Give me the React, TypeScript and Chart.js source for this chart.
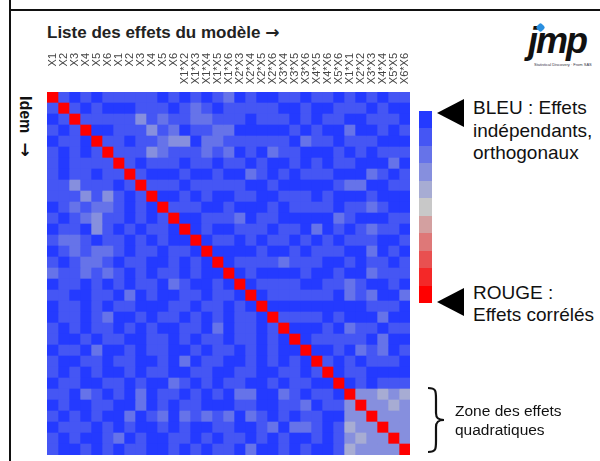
import React, { useEffect, useRef } from "react";
import { Chart, registerables } from "chart.js";
Chart.register(...registerables);

// ---- data ----
const mainLabels = ["X1", "X2", "X3", "X4", "X5", "X6"];
const blockLabels = ["X1", "X2", "X3", "X4", "X5", "X6"];
const interactionLabels = [
  "X1*X2", "X1*X3", "X1*X4", "X1*X5", "X1*X6",
  "X2*X3", "X2*X4", "X2*X5", "X2*X6",
  "X3*X4", "X3*X5", "X3*X6",
  "X4*X5", "X4*X6",
  "X5*X6",
];
const quadraticLabels = ["X1*X1", "X2*X2", "X3*X3", "X4*X4", "X5*X5", "X6*X6"];
const effectLabels = [...mainLabels, ...blockLabels, ...interactionLabels, ...quadraticLabels];

// |r| in tenths, lower triangle (row i, columns 0..i-1)
const lowerTriangle = [
  "",
  "1",
  "01",
  "101",
  "0110",
  "10101",
  "101111",
  "1011011",
  "11311101",
  "111313101",
  "0121221010",
  "10123110101",
  "011031010110",
  "1221011010100",
  "01212210110110",
  "101221011001010",
  "2112121010110100",
  "01101010110210010",
  "110011020100110110",
  "0110101100011011010",
  "01101200101101010110",
  "101011010100110201101",
  "1001011001101011011010",
  "01102001011001011010100",
  "100110110010201100101010",
  "1010100101100110011001101",
  "01100110100210101100101100",
  "110210102011010102200210110",
  "0100110020101100011001120113",
  "10101002012021212021010110033",
  "011101010010100110012022101433",
  "1010012010011010110101001013433",
  "10010101100101011020010100143333",
];

const legendSteps = [0, 0.1, 0.2, 0.3, 0.4, 0.5, 0.6, 0.7, 0.8, 0.9, 1];

// ---- colour scale ----
const BLUE = [36, 58, 255];
const GREY = [200, 200, 200];
const RED = [255, 0, 0];
function colorFor(t: number): string {
  const lo = t <= 0.5 ? BLUE : GREY;
  const hi = t <= 0.5 ? GREY : RED;
  const f = t <= 0.5 ? t / 0.5 : (t - 0.5) / 0.5;
  const c = lo.map((v, k) => Math.round(v + (hi[k] - v) * f));
  return `rgb(${c[0]},${c[1]},${c[2]})`;
}

function corr(i: number, j: number): number {
  if (i === j) return 1;
  const r = Math.max(i, j);
  const c = Math.min(i, j);
  const ch = (lowerTriangle[r] || "")[c];
  return ch ? parseInt(ch, 10) / 10 : 0;
}

const FONT = '"Liberation Sans", Arial, sans-serif';

const topLabelsPlugin = {
  id: "topLabels",
  afterDraw(chart: any) {
    const ctx = chart.ctx;
    const xs = chart.scales.x;
    const top = chart.chartArea.top;
    ctx.save();
    ctx.font = `11px ${FONT}`;
    ctx.fillStyle = "#444";
    ctx.textAlign = "right";
    ctx.textBaseline = "middle";
    effectLabels.forEach((lab, i) => {
      const cx = xs.getPixelForValue(i + 0.5);
      ctx.save();
      ctx.translate(cx, top - 39);
      ctx.rotate(-Math.PI / 2);
      ctx.fillText(lab, 0, 0);
      ctx.restore();
    });
    ctx.restore();
  },
};

function Heatmap() {
  const ref = useRef<HTMLCanvasElement | null>(null);
  useEffect(() => {
    if (!ref.current) return;
    const n = effectLabels.length;
    const datasets = effectLabels.map((lab, j) => ({
      label: lab,
      data: effectLabels.map(() => 1),
      backgroundColor: effectLabels.map((_, i) => colorFor(corr(i, j))),
      borderWidth: 0,
      barPercentage: 1,
      categoryPercentage: 1,
    }));
    const chart = new Chart(ref.current, {
      type: "bar",
      data: { labels: effectLabels, datasets },
      options: {
        indexAxis: "y",
        animation: false,
        responsive: false,
        layout: { padding: { left: 7, top: 44, right: 10, bottom: 6 } },
        plugins: { legend: { display: false }, tooltip: { enabled: false } },
        scales: {
          x: { type: "linear", stacked: true, min: 0, max: n, display: false },
          y: { type: "category", stacked: true, display: false },
        },
      },
      plugins: [topLabelsPlugin],
    } as any);
    return () => chart.destroy();
  }, []);
  return (
    <canvas
      ref={ref}
      width={380}
      height={413}
      style={{ position: "absolute", left: 40, top: 48, width: 380, height: 413 }}
    />
  );
}

const ARROW_FONT = '"DejaVu Sans", sans-serif';

export default function App() {
  const segH = 192 / legendSteps.length;
  return (
    <div
      style={{
        position: "absolute",
        left: 0,
        top: 0,
        width: 600,
        height: 461,
        overflow: "hidden",
        background: "#fff",
        fontFamily: FONT,
        color: "#111",
      }}
    >
      {/* frame */}
      <div style={{ position: "absolute", left: 9, top: 0, width: 2, height: 461, background: "#111" }} />
      <div style={{ position: "absolute", left: 9, top: 9, width: 600, height: 2, background: "#111" }} />

      <div style={{ position: "absolute", left: 47, top: 22, fontSize: 17, fontWeight: 700, whiteSpace: "nowrap", color: "#222" }}>
        Liste des effets du modèle <span style={{ fontFamily: ARROW_FONT, fontSize: 17 }}>→</span>
      </div>

      <div
        style={{
          position: "absolute",
          left: 34,
          top: 96,
          fontSize: 16,
          lineHeight: "18px",
          fontWeight: 700,
          whiteSpace: "nowrap",
          transform: "rotate(90deg)",
          transformOrigin: "left top",
          color: "#111",
        }}
      >
        Idem
      </div>
      <div
        style={{
          position: "absolute",
          left: 18,
          top: 140,
          fontFamily: ARROW_FONT,
          fontSize: 17,
          fontWeight: 700,
          lineHeight: "20px",
          color: "#111",
        }}
      >
        ↓
      </div>

      <Heatmap />

      {/* colour legend */}
      {legendSteps.map((t, k) => (
        <div
          key={k}
          style={{
            position: "absolute",
            left: 419,
            top: 111 + k * segH,
            width: 13,
            height: segH + 0.5,
            background: colorFor(t),
          }}
        />
      ))}

      {/* arrows */}
      <div
        style={{
          position: "absolute",
          left: 437,
          top: 99,
          width: 0,
          height: 0,
          borderTop: "14px solid transparent",
          borderBottom: "14px solid transparent",
          borderRight: "27px solid #000",
        }}
      />
      <div
        style={{
          position: "absolute",
          left: 437,
          top: 288,
          width: 0,
          height: 0,
          borderTop: "14px solid transparent",
          borderBottom: "14px solid transparent",
          borderRight: "27px solid #000",
        }}
      />

      <div style={{ position: "absolute", left: 473, top: 97, fontSize: 19, lineHeight: "22.5px", whiteSpace: "nowrap" }}>
        BLEU : Effets
        <br />
        indépendants,
        <br />
        orthogonaux
      </div>
      <div style={{ position: "absolute", left: 473, top: 282, fontSize: 19, lineHeight: "22px", whiteSpace: "nowrap" }}>
        ROUGE :
        <br />
        Effets corrélés
      </div>

      {/* brace */}
      <svg style={{ position: "absolute", left: 420, top: 385 }} width={30} height={72}>
        <path
          d="M8 3 C16 3 16 6 16 14 L16 28 C16 33 18 35 24 35 C18 35 16 37 16 42 L16 56 C16 64 16 67 8 67"
          fill="none"
          stroke="#111"
          strokeWidth={2.2}
        />
      </svg>
      <div style={{ position: "absolute", left: 455, top: 401, fontSize: 15.5, lineHeight: "19px", whiteSpace: "nowrap" }}>
        Zone des effets
        <br />
        quadratiques
      </div>

      {/* logo */}
      <div
        style={{
          position: "absolute",
          left: 528,
          top: 20,
          fontSize: 36,
          fontWeight: 700,
          fontStyle: "italic",
          letterSpacing: -2,
          color: "#111",
          whiteSpace: "nowrap",
        }}
      >
        jmp
      </div>
      <div style={{ position: "absolute", left: 537, top: 24, width: 7, height: 7, background: "#2a8fe0", borderRadius: 2, transform: "rotate(45deg)" }} />
      <div style={{ position: "absolute", left: 534, top: 62, fontSize: 4, color: "#334", whiteSpace: "nowrap" }}>
        Statistical Discovery · From SAS
      </div>
    </div>
  );
}
